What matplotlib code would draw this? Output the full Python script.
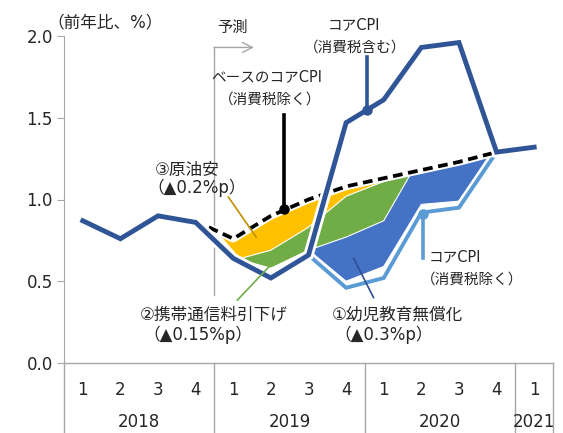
import matplotlib
matplotlib.use('Agg')
import matplotlib.pyplot as plt
import matplotlib.patheffects as pe

plt.rcParams['font.family'] = ['DejaVu Sans', 'Noto Sans CJK JP']

# 四半期ラベル
quarters = ['1', '2', '3', '4', '1', '2', '3', '4', '1', '2', '3', '4', '1']
years = ['2018', '2019', '2020', '2021']
year_pos = [1.5, 5.5, 9.5, 12]

# コアCPI（消費税含む）
core_cpi = [0.87, 0.76, 0.90, 0.86, 0.64, 0.52, 0.66, 1.47, 1.61, 1.93, 1.96, 1.29, 1.32]

# ベースのコアCPI（消費税除く）
base_x = [3.35, 4, 5, 6, 7, 8, 9, 10, 11]
base = [0.83, 0.76, 0.90, 1.00, 1.08, 1.13, 1.18, 1.23, 1.29]

# コアCPI（消費税除く）
core_ex_x = [6, 7, 8, 9, 10, 11]
core_ex = [0.66, 0.46, 0.52, 0.92, 0.95, 1.29]

# 要因別の塗り分け境界
fill_lo_x = [3.6, 4.2, 5, 6, 7, 8, 9, 10, 11]
fill_lo = [0.79, 0.63, 0.58, 0.69, 0.50, 0.59, 0.97, 0.99, 1.29]
green_top_x = [4.2, 5, 6, 7, 8, 8.3, 8.7]
green_top = [0.64, 0.69, 0.83, 1.02, 1.11, 1.135, 1.155]
blue_top_x = [6, 7, 8, 8.7, 9, 10, 11]
blue_top = [0.69, 0.77, 0.87, 1.15, 1.18, 1.23, 1.29]

DARK = '#2F5597'
LIGHT = '#5B9BD5'
GRAY = '#A6A6A6'
TXT = '#262626'

fig = plt.figure(figsize=(5.63, 4.33), dpi=100)
ax = fig.add_axes([64 / 563, 70 / 433, 489 / 563, 327 / 433])
ax.set_xlim(-0.5, 12.5)
ax.set_ylim(0, 2.0)


def band(top_x, top_y, lo, hi):
    # 上側の折れ線と、区間内の下側境界をつないだ多角形
    bx = [x for x in fill_lo_x if lo <= x <= hi]
    by = [y for x, y in zip(fill_lo_x, fill_lo) if lo <= x <= hi]
    return list(top_x) + bx[::-1], list(top_y) + by[::-1]


px, py = band(base_x, base, 3.35, 11)
ax.fill(px, py, color='#FFC000', ec='white', lw=0.8, zorder=1)
px, py = band(green_top_x, green_top, 4.2, 8.7)
ax.fill(px, py, color='#70AD47', ec='white', lw=0.8, zorder=1.1)
px, py = band(blue_top_x, blue_top, 6, 11)
ax.fill(px, py, color='#4472C4', ec='white', lw=0.8, zorder=1.2)

ax.plot(core_ex_x, core_ex, color=LIGHT, lw=2.8, zorder=3,
        path_effects=[pe.Stroke(linewidth=6.5, foreground='white'), pe.Normal()],
        solid_joinstyle='miter')
ax.plot(base_x, base, color='white', lw=5.5, zorder=3.5)
ax.plot(base_x, base, color='black', lw=2.7, dashes=(2.6, 1.5), zorder=3.6)
ax.plot(range(len(core_cpi)), core_cpi, color=DARK, lw=3.5, zorder=4,
        path_effects=[pe.Stroke(linewidth=7.5, foreground='white'), pe.Normal()],
        solid_joinstyle='miter')

# 軸まわり
for s in ['top', 'right', 'bottom']:
    ax.spines[s].set_visible(False)
ax.spines['left'].set_color(GRAY)
ax.set_xticks([])
ax.set_yticks([0, 0.5, 1.0, 1.5, 2.0])
ax.set_yticklabels(['0.0', '0.5', '1.0', '1.5', '2.0'])
ax.tick_params(axis='y', length=5, color=GRAY, labelsize=12, labelcolor=TXT, pad=3)
ax.plot([-0.5, 12.5], [0, 0], color=GRAY, lw=1, clip_on=False, zorder=0.5)

# 下段の表形式の区切り
for xv in [-0.5, 3.5, 7.5, 11.5, 12.5]:
    ax.plot([xv, xv], [0, -0.43], color=GRAY, lw=1, clip_on=False)
for i, q in enumerate(quarters):
    ax.text(i, -0.168, q, ha='center', va='center', fontsize=12, color=TXT)
for xp, yr in zip(year_pos, years):
    ax.text(xp, -0.36, yr, ha='center', va='center', fontsize=12, color=TXT)

ax.text(-0.95, 2.085, '（前年比、%）', ha='left', va='center', fontsize=12, color=TXT,
        clip_on=False)

# 予測期間の矢印
ax.plot([3.5, 3.5], [0.415, 1.93], color=GRAY, lw=1, zorder=0.5)
ax.annotate('', xy=(4.55, 1.93), xytext=(3.49, 1.93),
            arrowprops=dict(arrowstyle='->', color=GRAY, lw=1, mutation_scale=18,
                            shrinkA=0, shrinkB=0))
ax.text(3.97, 2.05, '予測', ha='center', va='center', fontsize=11, color=TXT,
        clip_on=False)

# コアCPI（消費税含む）の引き出し線
ax.plot([7.55, 7.55], [1.547, 1.87], color=DARK, lw=2.6, zorder=5)
ax.plot([7.55], [1.547], 'o', color=DARK, ms=6.5, zorder=5)
ax.text(7.2, 2.067, 'コアCPI', ha='center', va='center', fontsize=10.5, color=TXT,
        clip_on=False)
ax.text(7.25, 1.93, '（消費税含む）', ha='center', va='center', fontsize=10.5, color=TXT)

# ベースのコアCPI の引き出し線
ax.plot([5.36, 5.36], [0.94, 1.517], color='black', lw=2.6, zorder=5)
ax.plot([5.36], [0.94], 'o', color='black', ms=6.5, zorder=5)
ax.text(4.88, 1.75, 'ベースのコアCPI', ha='center', va='center', fontsize=10.5, color=TXT)
ax.text(4.99, 1.615, '（消費税除く）', ha='center', va='center', fontsize=10.5, color=TXT)

# コアCPI（消費税除く）の引き出し線
ax.plot([9.05, 9.05], [0.91, 0.64], color=LIGHT, lw=2.6, zorder=5)
ax.plot([9.05], [0.91], 'o', color=LIGHT, ms=6.5, zorder=5)
ax.text(9.2, 0.648, 'コアCPI', ha='left', va='center', fontsize=10.5, color=TXT)
ax.text(9.0, 0.514, '（消費税除く）', ha='left', va='center', fontsize=10.5, color=TXT)

# 要因ラベル
ax.plot([3.87, 4.61], [1.015, 0.77], color='#BF9000', lw=1.2, zorder=5)
ax.text(1.92, 1.18, '③原油安', ha='left', va='center', fontsize=12, color=TXT)
ax.text(1.72, 1.07, '（▲0.2%p）', ha='left', va='center', fontsize=12, color=TXT)

ax.plot([4.11, 5.12], [0.385, 0.63], color='#70AD47', lw=1.2, zorder=5)
ax.text(1.52, 0.294, '②携帯通信料引下げ', ha='left', va='center', fontsize=12, color=TXT)
ax.text(1.62, 0.171, '（▲0.15%p）', ha='left', va='center', fontsize=12, color=TXT)

ax.plot([7.73, 7.2], [0.40, 0.64], color='#2F4F8F', lw=1.2, zorder=5)
ax.text(6.61, 0.294, '①幼児教育無償化', ha='left', va='center', fontsize=12, color=TXT)
ax.text(6.7, 0.171, '（▲0.3%p）', ha='left', va='center', fontsize=12, color=TXT)

fig.savefig('out.png', dpi=100)
